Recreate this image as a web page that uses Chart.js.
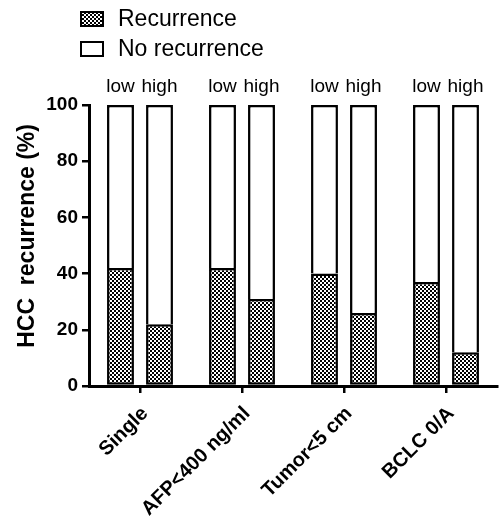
<!DOCTYPE html>
<html>
<head>
<meta charset="utf-8">
<script src="https://cdn.jsdelivr.net/npm/chart.js@4.4.0/dist/chart.umd.min.js"></script>
<style>
  body { margin: 0; background: #fff; }
  #wrap { width: 499px; height: 519px; }
</style>
</head>
<body>
<div id="wrap"><canvas id="chart"></canvas></div>
<script>
let categories = ['Single', 'AFP<400 ng/ml', 'Tumor<5 cm', 'BCLC 0/A'];
let recurrenceLow = [42, 42, 40, 37];
let recurrenceHigh = [22, 31, 26, 12];
let noRecurrenceLow = recurrenceLow.map(v => 100 - v);
let noRecurrenceHigh = recurrenceHigh.map(v => 100 - v);
let yTicks = [0, 20, 40, 60, 80, 100];
let legendLabels = ['Recurrence', 'No recurrence'];
let groupLabels = ['low', 'high'];

const FONT = '"Liberation Sans", Arial, sans-serif';

// checkered fill like the original
function makeChecks() {
    const c = document.createElement('canvas');
    c.width = 4;
    c.height = 4;
    const g = c.getContext('2d');
    g.fillStyle = '#fff';
    g.fillRect(0, 0, 4, 4);
    g.fillStyle = '#000';
    g.fillRect(0, 0, 2, 2);
    g.fillRect(2, 2, 2, 2);
    return g.createPattern(c, 'repeat');
}
const checks = makeChecks();

// legend drawn top-left, one item per row
const legendPlugin = {
    id: 'sideLegend',
    afterDraw(chart) {
        const ctx = chart.ctx;
        const fills = [checks, '#fff'];
        ctx.save();
        for (let i = 0; i < legendLabels.length; i++) {
            const y = 12 + i * 30;
            ctx.fillStyle = fills[i];
            ctx.fillRect(81, y, 22, 14);
            ctx.lineWidth = 2;
            ctx.strokeStyle = '#000';
            ctx.strokeRect(81, y, 22, 14);
            ctx.fillStyle = '#000';
            ctx.font = '23px ' + FONT;
            ctx.textBaseline = 'middle';
            ctx.textAlign = 'left';
            ctx.fillText(legendLabels[i], 118, y + 8);
        }
        ctx.restore();
    }
};

// "low" / "high" above each bar
const groupLabelPlugin = {
    id: 'groupLabels',
    afterDraw(chart) {
        const ctx = chart.ctx;
        ctx.save();
        ctx.fillStyle = '#000';
        ctx.font = '19px ' + FONT;
        ctx.textAlign = 'center';
        ctx.textBaseline = 'middle';
        [1, 3].forEach((dsIndex, k) => {
            const meta = chart.getDatasetMeta(dsIndex);
            meta.data.forEach(bar => {
                ctx.fillText(groupLabels[k], bar.x, chart.chartArea.top - 18);
            });
        });
        ctx.restore();
    }
};

const ctx = document.getElementById('chart');

new Chart(ctx, {
    type: 'bar',
    data: {
        labels: categories,
        datasets: [
            { label: 'Recurrence low', data: recurrenceLow, stack: 'low', backgroundColor: checks, borderSkipped: false },
            { label: 'No recurrence low', data: noRecurrenceLow, stack: 'low', backgroundColor: '#fff', borderSkipped: 'bottom' },
            { label: 'Recurrence high', data: recurrenceHigh, stack: 'high', backgroundColor: checks, borderSkipped: false },
            { label: 'No recurrence high', data: noRecurrenceHigh, stack: 'high', backgroundColor: '#fff', borderSkipped: 'bottom' }
        ]
    },
    options: {
        responsive: true,
        maintainAspectRatio: false,
        animation: false,
        layout: { padding: { top: 105, right: 2, left: 0, bottom: 0 } },
        datasets: {
            bar: {
                borderColor: '#000',
                borderWidth: 2.5,
                categoryPercentage: 0.765,
                barPercentage: 0.69
            }
        },
        plugins: {
            legend: { display: false },
            tooltip: { enabled: false }
        },
        scales: {
            x: {
                stacked: true,
                grid: { display: true, drawOnChartArea: false, offset: false, color: '#000', lineWidth: 2.5, tickLength: 7 },
                border: { color: '#000', width: 3 },
                ticks: {
                    color: '#000',
                    font: { family: FONT, size: 20, weight: 'bold' },
                    maxRotation: 45,
                    minRotation: 45,
                    padding: 9,
                    labelOffset: 5
                },
                afterFit(scale) { scale.height = 133; }
            },
            y: {
                stacked: true,
                min: 0,
                max: 100,
                afterBuildTicks(scale) { scale.ticks = yTicks.map(v => ({ value: v })); },
                grid: { display: true, drawOnChartArea: false, color: '#000', lineWidth: 2.5, tickLength: 7 },
                border: { color: '#000', width: 3 },
                ticks: {
                    color: '#000',
                    font: { family: FONT, size: 19, weight: 'bold' },
                    padding: 4
                },
                title: {
                    display: true,
                    text: '   HCC  recurrence (%)',
                    color: '#000',
                    font: { family: FONT, size: 23, weight: 'bold' },
                    padding: { top: 14, bottom: 0 }
                },
                afterFit(scale) { scale.width = 89; }
            }
        }
    },
    plugins: [legendPlugin, groupLabelPlugin]
});
</script>
</body>
</html>
